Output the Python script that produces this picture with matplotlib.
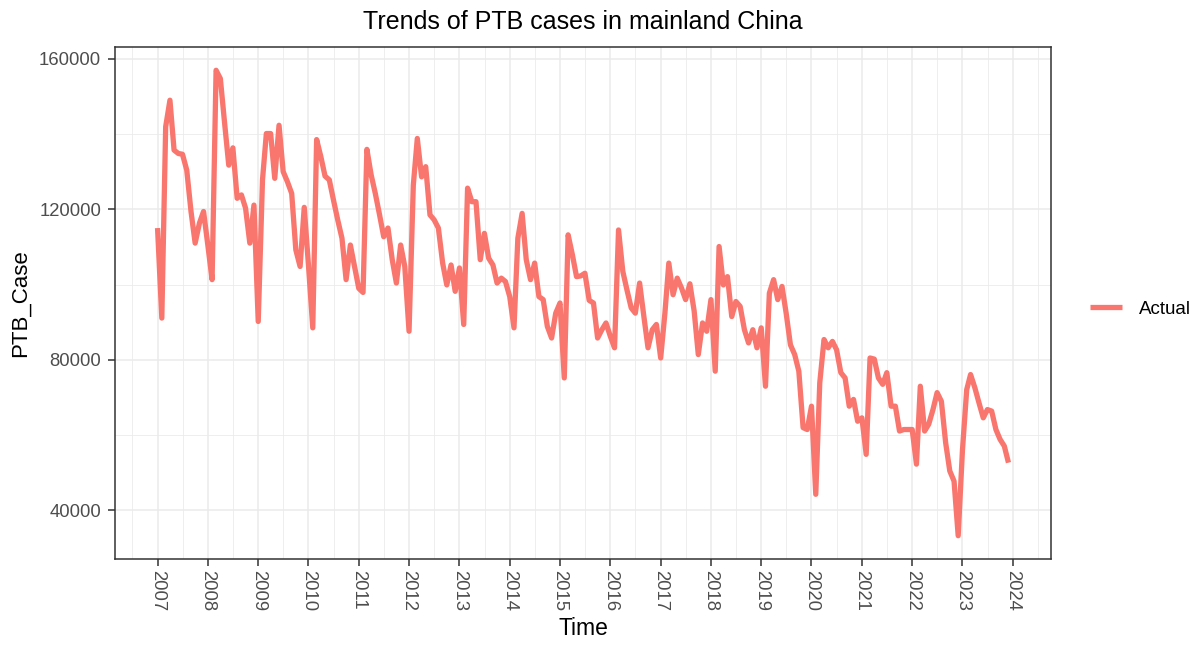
import matplotlib
matplotlib.use('Agg')
import matplotlib.pyplot as plt
import matplotlib.dates as mdates
import pandas as pd
import numpy as np

plt.rcParams['font.family'] = ['Liberation Sans', 'DejaVu Sans']

# ---- data ----
start_month = '2007-01-01'
end_month = '2023-12-01'
ptb_case = [
    # 2007
    115000, 91100, 141900, 148950, 135700, 134800, 134600, 130400, 119400, 111000, 116300, 119400,
    # 2008
    110500, 101300, 156900, 154700, 143200, 131700, 136300, 122900, 123800, 120300, 111000, 121100,
    # 2009
    90200, 127800, 140100, 140100, 128200, 142300, 130000, 127300, 124200, 109200, 104800, 120500,
    # 2010
    105000, 88500, 138500, 133900, 128800, 127800, 122500, 117200, 112300, 101300, 110500, 104800,
    # 2011
    99000, 97900, 135900, 129100, 124200, 118500, 112700, 115000, 106600, 100400, 110500, 104800,
    # 2012
    87600, 126400, 138800, 128600, 131300, 118500, 117200, 115000, 105700, 99900, 105200, 98200,
    # 2013
    104400, 89400, 125600, 122000, 122000, 106600, 113600, 107000, 105200, 100400, 101700, 100800,
    # 2014
    96800, 88500, 112300, 118900, 106600, 101300, 105700, 96800, 96000, 88900, 85800, 92400,
    # 2015
    95100, 75200, 113200, 107900, 102100, 102300, 103000, 95800, 95100, 85800, 88000, 89800,
    # 2016
    86300, 83200, 114500, 103500, 98600, 93800, 92400, 100400, 91500, 83200, 88000, 89400,
    # 2017
    80500, 92500, 105700, 97300, 101700, 99100, 96000, 100200, 93000, 81400, 89800, 87600,
    # 2018
    96000, 77000, 110100, 99900, 102100, 91500, 95500, 94200, 88000, 84500, 88000, 83200,
    # 2019
    88500, 73000, 97700, 101300, 96000, 99500, 92400, 84000, 81400, 77000, 62000, 61500,
    # 2020
    67700, 44300, 73900, 85400, 83200, 84900, 82700, 76600, 75200, 67700, 69500, 63700,
    # 2021
    64600, 54900, 80500, 80200, 75200, 73500, 76600, 67700, 67700, 61100, 61500, 61500,
    # 2022
    61500, 52300, 73000, 61100, 62900, 66800, 71300, 69000, 58000, 50500, 47800, 33300,
    # 2023
    56000, 72100, 76100, 72600, 68600, 64600, 66800, 66400, 61500, 58900, 57100, 52700,
]
series_label = 'Actual'
year_ticks = list(range(2007, 2025))
y_ticks = [40000, 80000, 120000, 160000]
y_minor = [60000, 100000, 140000]
title = 'Trends of PTB cases in mainland China'
x_title = 'Time'
y_title = 'PTB_Case'

months = pd.date_range(start_month, end_month, freq='MS')
values = np.array(ptb_case, dtype=float)

# ---- figure ----
W, H = 1200, 647
fig = plt.figure(figsize=(W / 100, H / 100), dpi=100)
ax = fig.add_axes([115 / W, 1 - 559 / H, (1051 - 115) / W, (559 - 47) / H])

line_col = '#F8766D'
ax.plot(months, values, color=line_col, lw=3.8, solid_joinstyle='round',
        solid_capstyle='butt', label=series_label, zorder=3)

# limits with ggplot-like 5% expansion
xn = mdates.date2num(months)
xr = xn[-1] - xn[0]
ax.set_xlim(xn[0] - 0.05 * xr, xn[-1] + 0.05 * xr)
yr = values.max() - values.min()
ax.set_ylim(values.min() - 0.05 * yr, values.max() + 0.05 * yr)

major_x = [mdates.date2num(pd.Timestamp(f'{y}-01-01')) for y in year_ticks]
minor_x = [mdates.date2num(pd.Timestamp(f'{y}-07-02')) for y in year_ticks[:-1]]
minor_x = [mdates.date2num(pd.Timestamp('2006-07-02'))] + minor_x + [mdates.date2num(pd.Timestamp('2024-07-02'))]
ax.set_xticks(major_x)
ax.set_xticklabels([str(y) for y in year_ticks], rotation=270)
ax.set_xticks(minor_x, minor=True)
ax.set_yticks(y_ticks)
ax.set_yticklabels([str(v) for v in y_ticks])
ax.set_yticks(y_minor, minor=True)

ax.grid(which='major', color='#EBEBEB', lw=1.1, zorder=0)
ax.grid(which='minor', color='#EBEBEB', lw=0.6, zorder=0)
ax.set_axisbelow(True)

ax.tick_params(which='major', length=5, width=1.1, color='#333333',
               labelcolor='#4D4D4D', labelsize=13.3)
ax.tick_params(axis='y', which='major', pad=5)
ax.tick_params(axis='x', which='major', pad=3)
ax.tick_params(which='minor', length=0)
for s in ax.spines.values():
    s.set_color('#333333')
    s.set_linewidth(1.1)

ax.set_xlabel(x_title, fontsize=16.5, color='black', labelpad=4)
ax.set_ylabel(y_title, fontsize=16, color='black', labelpad=6)
fig.text((115 + 1051) / 2 / W, 1 - 22 / H, title, ha='center', va='center', fontsize=18)

leg = ax.legend(loc='center left', bbox_to_anchor=(1090 / W, 1 - 309 / H),
                bbox_transform=fig.transFigure, frameon=False, fontsize=13.5,
                handlelength=1.7, handletextpad=0.9, borderpad=0, borderaxespad=0)

fig.savefig('out.png', dpi=100)
